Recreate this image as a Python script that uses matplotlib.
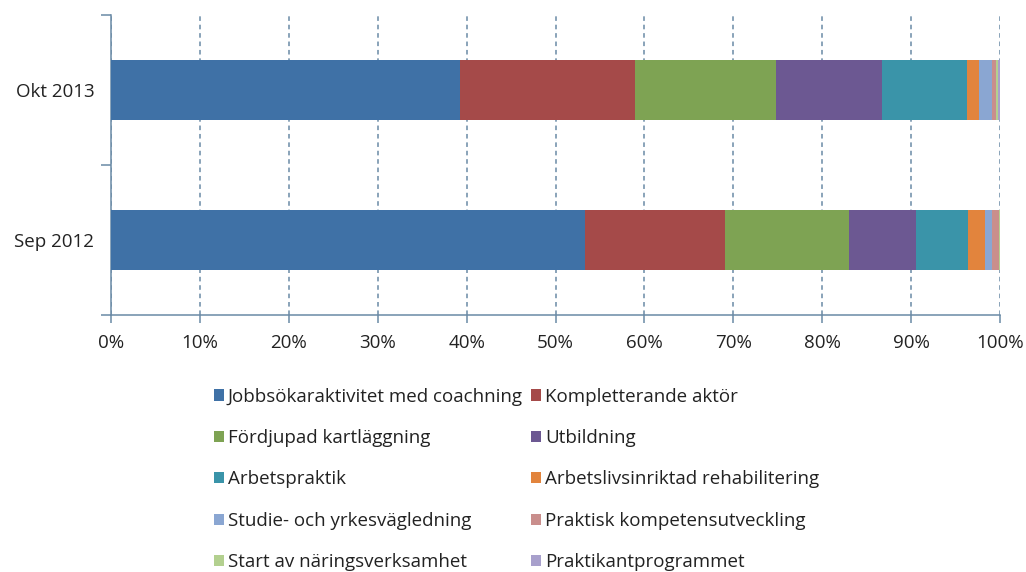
import matplotlib.pyplot as plt
import numpy as np

plt.rcParams['font.family'] = ['Open Sans', 'DejaVu Sans']

periods = ['Sep 2012', 'Okt 2013']
categories = [
    'Jobbsökaraktivitet med coachning',
    'Kompletterande aktör',
    'Fördjupad kartläggning',
    'Utbildning',
    'Arbetspraktik',
    'Arbetslivsinriktad rehabilitering',
    'Studie- och yrkesvägledning',
    'Praktisk kompetensutveckling',
    'Start av näringsverksamhet',
    'Praktikantprogrammet',
]
# andel (%) per insats, [Sep 2012, Okt 2013]
shares = [
    [53.3, 39.3],
    [15.8, 19.6],
    [13.9, 15.9],
    [7.6, 11.9],
    [5.8, 9.6],
    [1.9, 1.3],
    [0.8, 1.5],
    [0.8, 0.5],
    [0.1, 0.2],
    [0.0, 0.2],
]
colors = ['#3f71a6', '#a54a49', '#7ea353', '#6c5892', '#3a94a9',
          '#e2843d', '#8aa6d2', '#c98e8c', '#b3d08f', '#a8a0cc']

fig = plt.figure(figsize=(10.26, 5.72), dpi=100)
ax = fig.add_axes([111 / 1026, 1 - 315 / 572, 889 / 1026, 300 / 572])

y = np.arange(len(periods))
left = np.zeros(len(periods))
handles = []
for name, vals, c in zip(categories, shares, colors):
    vals = np.array(vals)
    h = ax.barh(y, vals, left=left, height=0.4, color=c, label=name,
                edgecolor='none', zorder=3)
    handles.append(h)
    left += vals

axis_col = '#6a8aa6'
ax.set_xlim(0, 100)
ax.set_ylim(-0.5, 1.5)
ax.set_xticks(np.arange(0, 101, 10))
ax.set_xticklabels([f'{v}%' for v in range(0, 101, 10)])
ax.xaxis.grid(True, linestyle=(0, (3, 2.5)), color=axis_col, linewidth=1.1)

ax.set_yticks([-0.5, 0.5, 1.5])
ax.set_yticklabels([])
ax.set_yticks(y, minor=True)
ax.set_yticklabels(periods, minor=True)
ax.tick_params(axis='y', which='minor', length=0, pad=12, labelsize=13.5,
               labelcolor='#222222')
ax.tick_params(axis='y', which='major', length=7, color=axis_col, width=1.1)
ax.tick_params(axis='x', length=6, color=axis_col, width=1.1, pad=8,
               labelsize=13.5, labelcolor='#222222')

for s in ['top', 'right']:
    ax.spines[s].set_visible(False)
for s in ['left', 'bottom']:
    ax.spines[s].set_color(axis_col)
    ax.spines[s].set_linewidth(1.1)

order = [0, 2, 4, 6, 8, 1, 3, 5, 7, 9]
fig.legend([handles[i] for i in order], [categories[i] for i in order],
           ncol=2, loc='upper left', bbox_to_anchor=(206 / 1026, 1 - 380 / 572),
           frameon=False, fontsize=13.5, handlelength=0.55, handleheight=0.55,
           handletextpad=0.2, labelspacing=1.25, columnspacing=0.45,
           labelcolor='#222222', borderaxespad=0)

fig.savefig('out.png', dpi=100)
